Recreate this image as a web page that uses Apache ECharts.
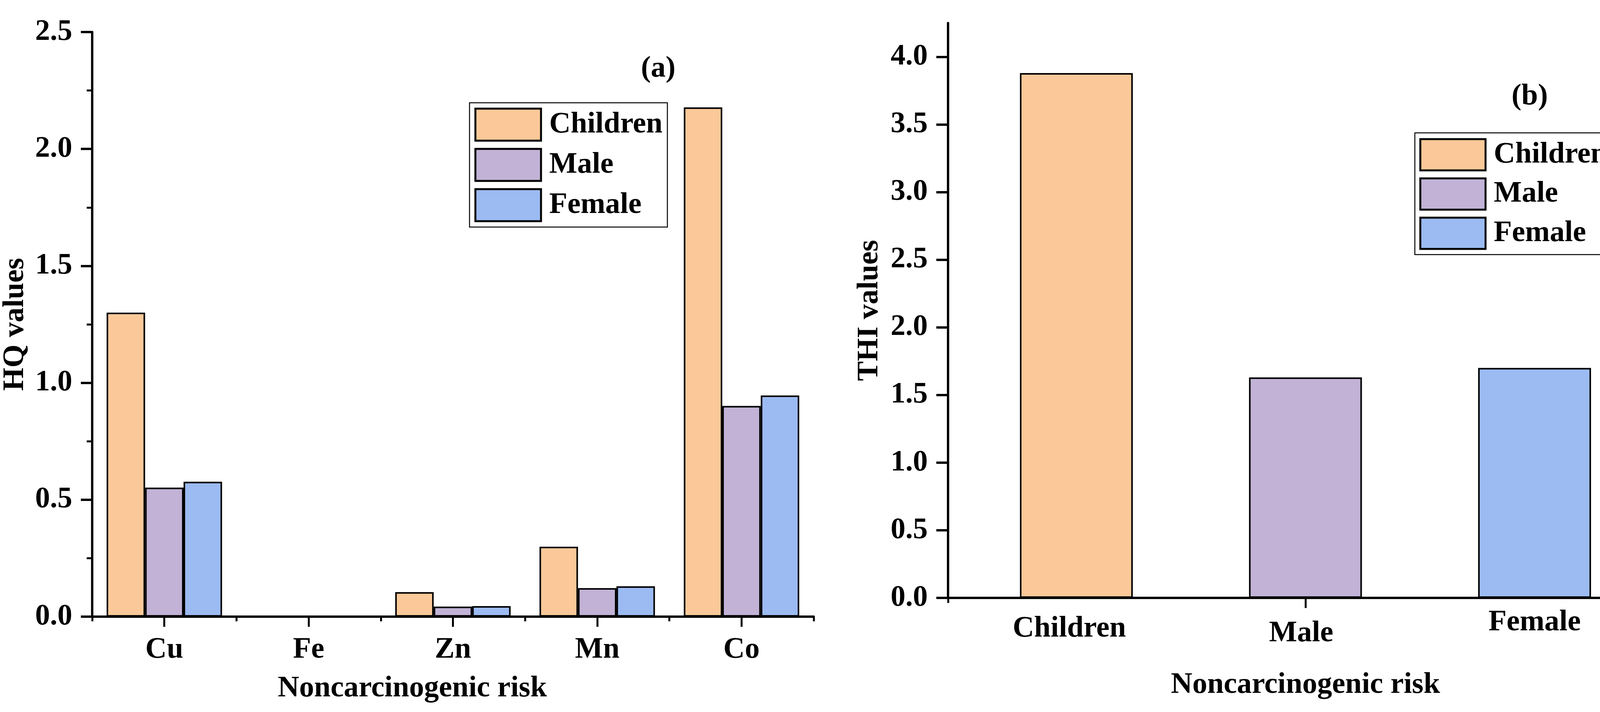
<!DOCTYPE html>
<html><head><meta charset="utf-8">
<script src="https://cdn.jsdelivr.net/npm/echarts@6/dist/echarts.min.js"></script>
<style>html,body{margin:0;padding:0;background:#fff}#c{width:4282px;height:1822px}</style>
</head><body><div id="c"></div>
<script>
// ---- data ----
const categories = ['Cu', 'Fe', 'Zn', 'Mn', 'Co'];
const groups = ['Children', 'Male', 'Female'];
const childrenHQ = [1.300, 0, 0.105, 0.299, 2.178];
const maleHQ = [0.552, 0, 0.043, 0.122, 0.901];
const femaleHQ = [0.577, 0, 0.045, 0.130, 0.946];
const thiValues = [3.88, 1.63, 1.70];
const hqTicks = [0, 0.5, 1.0, 1.5, 2.0, 2.5];
const thiTicks = [0, 0.5, 1.0, 1.5, 2.0, 2.5, 3.0, 3.5, 4.0];

// ---- styles ----
const colors = ['#FBC999', '#C1B2D6', '#9CBBF2'];
const F = {fontFamily: "'Liberation Serif','Times New Roman',serif", fontWeight: 'bold', fontSize: 76, color: '#000'};
const BL = {color: '#000'};
const hqByGroup = [childrenHQ, maleHQ, femaleHQ];

const chart = echarts.init(document.getElementById('c'), null, {renderer: 'canvas'});

const labelMargins = [41, 53, 25.5];
const labelShift = [36, 22, 0];
const labelAxes = groups.map((g, i) => ({
  gridIndex: 1, type: 'value', position: 'bottom', min: 0.44, max: 3.56,
  axisLine: {show: false}, axisTick: {show: false}, splitLine: {show: false},
  axisLabel: {show: true, customValues: [i + 1], formatter: () => g, margin: labelMargins[i],
    padding: [0, labelShift[i], 0, 0], ...F}
}));

const option = {
  animation: false,
  backgroundColor: '#fff',
  grid: [
    {left: 235, top: 82, width: 1848, height: 1496, containLabel: false},
    {left: 2427, top: 59, width: 1830, height: 1471, containLabel: false}
  ],
  xAxis: [
    {gridIndex: 0, type: 'category', position: 'bottom', data: categories,
      axisLine: {show: true, lineStyle: {...BL, width: 6}},
      axisTick: {show: true, alignWithLabel: true, length: 26, lineStyle: {...BL, width: 5}},
      axisLabel: {...F, margin: 47},
      splitLine: {show: false},
      name: 'Noncarcinogenic risk', nameLocation: 'middle', nameGap: 146,
      nameTextStyle: {...F, padding: [0, 208, 0, 0]}},
    {gridIndex: 0, type: 'category', position: 'bottom', data: categories,
      axisLine: {show: false},
      axisTick: {show: true, length: 12, lineStyle: {...BL, width: 5}},
      axisLabel: {show: false}, splitLine: {show: false}},
    {gridIndex: 1, type: 'value', position: 'bottom', min: 0.44, max: 3.56,
      axisLine: {show: true, lineStyle: {...BL, width: 6}},
      axisTick: {show: true, customValues: [2], length: 26, lineStyle: {...BL, width: 5}},
      axisLabel: {show: false}, splitLine: {show: false},
      name: 'Noncarcinogenic risk', nameLocation: 'middle', nameGap: 185,
      nameTextStyle: {...F}},
    {gridIndex: 1, type: 'value', position: 'bottom', min: 0.44, max: 3.56,
      axisLine: {show: false},
      axisTick: {show: true, customValues: [0.44, 3.56], length: 13, lineStyle: {...BL, width: 5}},
      axisLabel: {show: false}, splitLine: {show: false}},
    ...labelAxes
  ],
  yAxis: [
    {gridIndex: 0, type: 'value', min: 0, max: 2.5, interval: 0.5,
      axisLine: {show: true, lineStyle: {...BL, width: 6}},
      axisTick: {show: true, length: 29, lineStyle: {...BL, width: 6}},
      minorTick: {show: true, splitNumber: 2, length: 14, lineStyle: {...BL, width: 5}},
      splitLine: {show: false},
      axisLabel: {...F, margin: 51, customValues: hqTicks, formatter: v => v.toFixed(1)},
      name: 'HQ values', nameLocation: 'middle', nameGap: 159, nameTextStyle: {...F}},
    {gridIndex: 1, type: 'value', min: 0, max: 4.25, interval: 0.5,
      axisLine: {show: true, lineStyle: {...BL, width: 6}},
      axisTick: {show: true, customValues: thiTicks, length: 30, lineStyle: {...BL, width: 6}},
      splitLine: {show: false},
      axisLabel: {...F, margin: 52, customValues: thiTicks, formatter: v => v.toFixed(1)},
      name: 'THI values', nameLocation: 'middle', nameGap: 163, nameTextStyle: {...F}},
    {gridIndex: 1, type: 'value', min: 0, max: 4.25, interval: 0.25,
      axisLine: {show: false},
      axisTick: {show: true, length: 14, lineStyle: {...BL, width: 5}},
      axisLabel: {show: false}, splitLine: {show: false}}
  ],
  legend: [
    {left: 1202, top: 263, orient: 'vertical', data: groups, icon: 'rect', selectedMode: false,
      itemWidth: 168, itemHeight: 82, itemGap: 16, padding: 12.5,
      borderColor: '#000', borderWidth: 2.5, backgroundColor: '#fff',
      itemStyle: {borderColor: '#000', borderWidth: 5},
      textStyle: {...F, padding: [0, 0, 0, 16]}},
    {left: 3622, top: 340, orient: 'vertical', data: groups, icon: 'rect', selectedMode: false,
      itemWidth: 167, itemHeight: 80, itemGap: 15.5, padding: [13.5, 10, 12, 11.5],
      borderColor: '#000', borderWidth: 2.5, backgroundColor: '#fff',
      itemStyle: {borderColor: '#000', borderWidth: 5},
      textStyle: {...F, padding: [0, 0, 0, 16]}}
  ],
  graphic: [
    {type: 'text', x: 1685, y: 176, style: {text: '(a)', fontSize: 76, fontWeight: 'bold',
      fontFamily: F.fontFamily, fill: '#000', align: 'center', verticalAlign: 'middle'}},
    {type: 'text', x: 3916, y: 247, style: {text: '(b)', fontSize: 76, fontWeight: 'bold',
      fontFamily: F.fontFamily, fill: '#000', align: 'center', verticalAlign: 'middle'}}
  ],
  series: [
    ...groups.map((g, i) => ({
      name: g, type: 'bar', xAxisIndex: 0, yAxisIndex: 0, data: hqByGroup[i],
      barGap: '0%', barCategoryGap: '20%',
      itemStyle: {color: colors[i], borderColor: '#000', borderWidth: 4}
    })),
    ...groups.map((g, i) => ({
      name: g, type: 'bar', xAxisIndex: 2, yAxisIndex: 1, data: [[i + 1, thiValues[i]]],
      barWidth: 289, barGap: '-100%',
      itemStyle: {color: colors[i], borderColor: '#000', borderWidth: 4}
    }))
  ]
};
chart.setOption(option);
</script>
</body></html>
